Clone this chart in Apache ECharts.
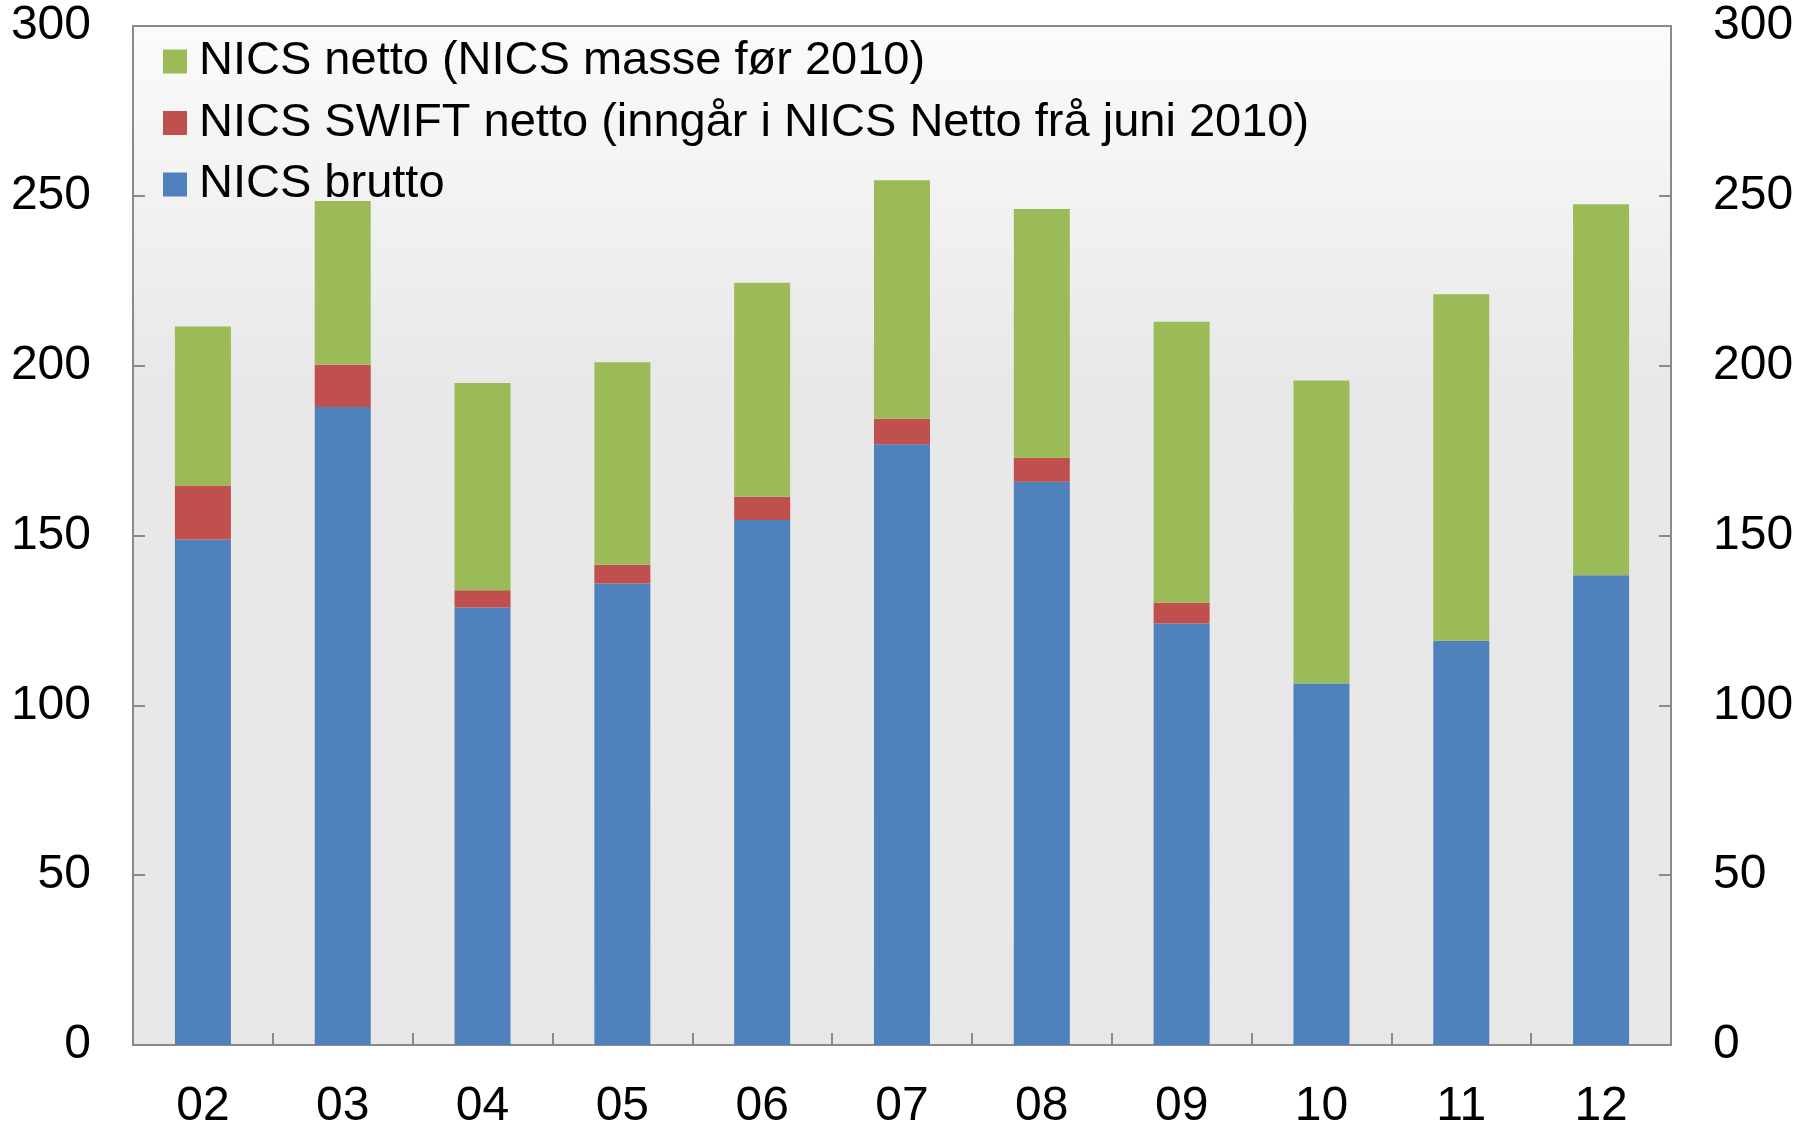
<!DOCTYPE html>
<html>
<head>
<meta charset="utf-8">
<script src="https://cdn.jsdelivr.net/npm/echarts@6/dist/echarts.min.js"></script>
<style>html,body{margin:0;padding:0;background:#fff}#c{width:1816px;height:1131px}</style>
</head>
<body>
<div id="c"></div>
<script>
const categories = ['02','03','04','05','06','07','08','09','10','11','12'];
const brutto = [148.8,187.8,128.8,135.9,154.6,176.9,165.8,124.1,106.4,119.0,138.3];
const swift  = [15.9,12.5,5.1,5.5,6.8,7.5,7.1,6.1,0,0,0];
const netto  = [46.8,48.2,61.0,59.6,63.0,70.2,73.2,82.7,89.2,102.0,109.2];
const yTicks = [0,50,100,150,200,250,300];

const nameNetto = 'NICS netto (NICS masse før 2010)';
const nameSwift = 'NICS SWIFT netto (inngår i NICS Netto frå juni 2010)';
const nameBrutto = 'NICS brutto';

const FONT = '"Liberation Sans", Arial, sans-serif';
const axisGray = '#8a8a8a';

const chart = echarts.init(document.getElementById('c'), null, {renderer:'canvas'});
const yAxisCommon = {
  type:'value', min:yTicks[0], max:yTicks[yTicks.length-1], interval:50,
  axisLine:{show:true, lineStyle:{color:axisGray, width:2}},
  axisTick:{show:true, inside:true, length:12, lineStyle:{color:axisGray, width:2}},
  splitLine:{show:false},
  axisLabel:{color:'#000', fontSize:48, fontFamily:FONT, margin:42}
};
chart.setOption({
  animation:false,
  grid:{left:133, right:145, top:26, bottom:81, show:true,
    borderColor:axisGray, borderWidth:2,
    backgroundColor:{type:'linear', x:0, y:0, x2:0, y2:1, colorStops:[
      {offset:0, color:'#fbfbfb'},{offset:0.35, color:'#e8e8e8'},{offset:1, color:'#e7e7e7'}]}},
  legend:{
    orient:'vertical', left:158, top:33,
    data:[nameNetto, nameSwift, nameBrutto],
    icon:'rect', itemWidth:24, itemHeight:24, itemGap:14.5,
    textStyle:{color:'#000', fontSize:47, fontFamily:FONT, lineHeight:46, padding:[0,0,0,7]}
  },
  xAxis:{
    type:'category', data:categories,
    axisLine:{show:true, lineStyle:{color:axisGray, width:2}},
    axisTick:{show:true, inside:true, length:12, alignWithLabel:false, lineStyle:{color:axisGray, width:2}},
    axisLabel:{color:'#000', fontSize:48, fontFamily:FONT, margin:38}
  },
  yAxis:[
    Object.assign({}, yAxisCommon, {position:'left'}),
    Object.assign({}, yAxisCommon, {position:'right', axisLabel:Object.assign({}, yAxisCommon.axisLabel, {margin:42})})
  ],
  series:[
    {name:nameBrutto, type:'bar', stack:'a', data:brutto, barWidth:56, itemStyle:{color:'#4f81bd'}},
    {name:nameSwift, type:'bar', stack:'a', data:swift, itemStyle:{color:'#c0504d'}},
    {name:nameNetto, type:'bar', stack:'a', data:netto, itemStyle:{color:'#9bbb59'}}
  ]
});
</script>
</body>
</html>
